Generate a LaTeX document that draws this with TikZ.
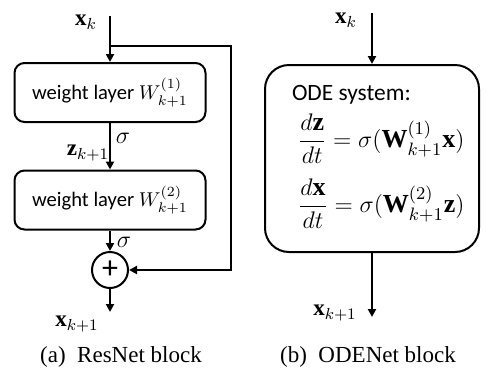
\documentclass[tikz,border=0pt]{standalone}
\usepackage{amsmath}
\usepackage{fontspec}
\setmainfont{Liberation Serif}
\newfontfamily\calib{Carlito}
\usetikzlibrary{arrows.meta}
\begin{document}
\begin{tikzpicture}[x=0.5pt,y=-0.5pt,
  line width=1pt,
  arr/.style={-{Triangle[length=4pt,width=4pt]}},
  wbox/.style={draw, rounded corners=5pt, minimum width=95.5pt, minimum height=29.5pt,
    inner sep=0pt, font=\calib\fontsize{10.3}{12}\selectfont},
  obox/.style={draw, rounded corners=12pt, minimum width=107pt, minimum height=93.5pt, inner sep=0pt},
  sumnode/.style={draw, circle, minimum size=18pt, inner sep=0pt, font=\calib\fontsize{16}{16}\selectfont},
  lbl/.style={inner sep=0pt, font=\fontsize{11.5}{13}\selectfont},
  captxt/.style={inner sep=0pt, font=\fontsize{11.5}{13}\selectfont},
  txt/.style={inner sep=0pt, anchor=west, font=\calib\fontsize{11.7}{13}\selectfont},
  eqn/.style={inner sep=0pt, anchor=west, font=\fontsize{13}{15}\selectfont}]
\useasboundingbox (0,0) rectangle (487,376);
% ---------- (a) ResNet block ----------
\coordinate (atop) at (110,16);
\coordinate (abr) at (110,46);
\coordinate (art) at (231,46);
\node[wbox] (b1) at (110,92.5) {weight layer $W_{k+1}^{(1)}$};
\node[wbox] (b2) at (110,200) {weight layer $W_{k+1}^{(2)}$};
\node[sumnode] (sum) at (110,270) {+};
\coordinate (abot) at (110,312);
\draw[arr] (atop) -- (b1.north);
\draw[arr] (abr) -- (art) |- (sum.east);
\draw[arr] (b1.south) -- (b2.north);
\draw[arr] (b2.south) -- (sum.north);
\draw[arr] (sum.south) -- (abot);
\node[lbl] (axk) at (86,22) {$\mathbf{x}_k$};
\node[lbl] (s1) at (123,138) {$\sigma$};
\node[lbl] (z) at (88,153) {$\mathbf{z}_{k+1}$};
\node[lbl] (s2) at (124,242) {$\sigma$};
\node[lbl] (axk1) at (77,324) {$\mathbf{x}_{k+1}$};
\node[captxt] (capa) at (121,357) {(a)\ \ ResNet block};
% ---------- (b) ODENet block ----------
\coordinate (btop) at (372,13);
\node[obox] (ode) at (372,158.5) {};
\coordinate (bbot) at (372,317);
\draw[arr] (btop) -- (ode.north);
\draw[arr] (ode.south) -- (bbot);
\node[txt] (t1) at (291,95) {ODE system:};
\node[eqn] (e1) at (297,139) {$\dfrac{d\mathbf{z}}{dt} = \sigma(\mathbf{W}_{k+1}^{(1)}\mathbf{x})$};
\node[eqn] (e2) at (297,204) {$\dfrac{d\mathbf{x}}{dt} = \sigma(\mathbf{W}_{k+1}^{(2)}\mathbf{z})$};
\node[lbl] (bxk) at (346,20) {$\mathbf{x}_k$};
\node[lbl] (bxk1) at (335,313) {$\mathbf{x}_{k+1}$};
\node[captxt] (capb) at (368,357) {(b)\ \ ODENet block};
\end{tikzpicture}
\end{document}
